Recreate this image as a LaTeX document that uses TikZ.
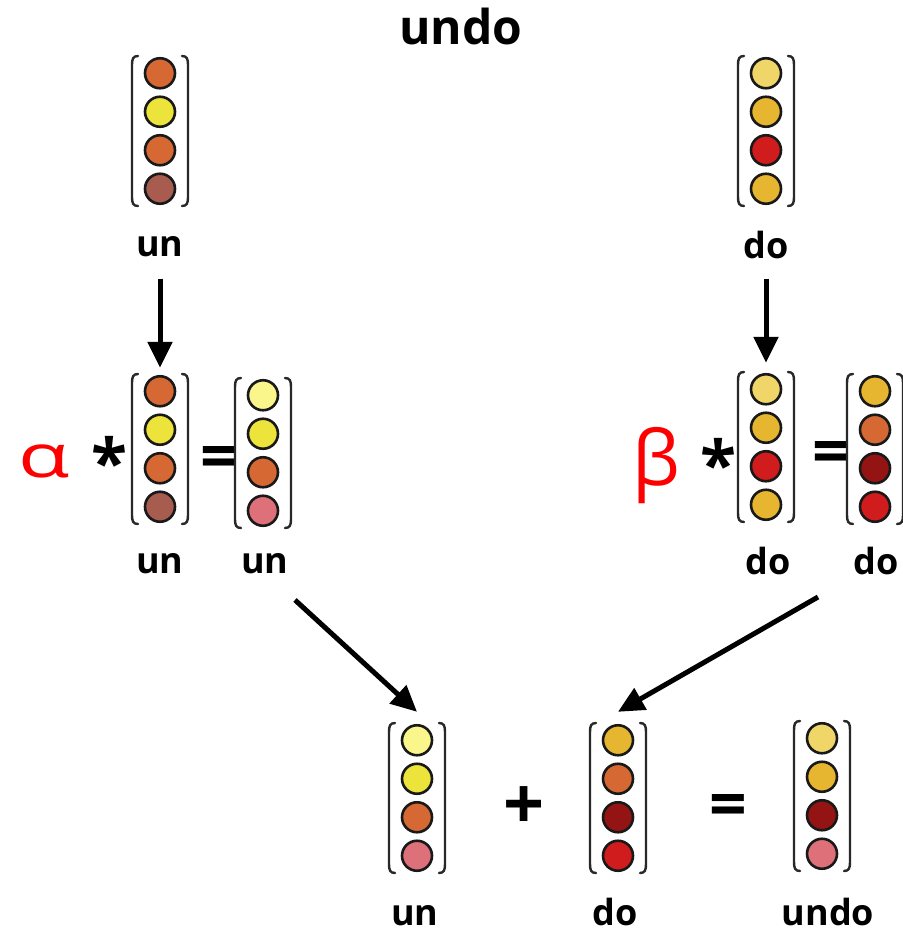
\documentclass[tikz,border=0pt]{standalone}
\usepackage{fontspec}
\setmainfont{Open Sans}
\usetikzlibrary{arrows.meta}
\definecolor{cOr}{RGB}{214,104,52}
\definecolor{cYe}{RGB}{236,228,58}
\definecolor{cBr}{RGB}{168,92,80}
\definecolor{cPy}{RGB}{250,246,140}
\definecolor{cPk}{RGB}{222,112,122}
\definecolor{cLg}{RGB}{240,214,104}
\definecolor{cGd}{RGB}{230,182,48}
\definecolor{cRd}{RGB}{208,28,28}
\definecolor{cDr}{RGB}{148,20,20}
\definecolor{brk}{RGB}{40,40,40}
\tikzset{
  bracket/.style={draw=brk, line width=2.4pt, line cap=round},
  dot/.style={circle, draw=black!90, line width=2.6pt, minimum size=30pt, inner sep=0pt},
  lbl/.style={font=\bfseries\fontsize{36}{40}\selectfont, anchor=base, inner sep=0pt},
  ttl/.style={font=\bfseries\fontsize{48}{52}\selectfont, anchor=base, inner sep=0pt},
  greek/.style={text=red, inner sep=0pt, anchor=base},
  op/.style={font=\bfseries, inner sep=0pt},
  arr/.style={line width=5pt, -{Triangle[length=26pt,width=24pt]}},
  pics/vec/.style n args={4}{code={
    \node[minimum width=56pt, minimum height=150pt, inner sep=0pt] (-box) {};
    \draw[bracket] (-22,-75) .. controls (-27,-75) and (-28,-72) .. (-28,-66) -- (-28,66) .. controls (-28,72) and (-27,75) .. (-22,75);
    \draw[bracket] (22,-75) .. controls (27,-75) and (28,-72) .. (28,-66) -- (28,66) .. controls (28,72) and (27,75) .. (22,75);
    \node[dot, fill=#1] (-c1) at (0,-57.75) {};
    \node[dot, fill=#2] (-c2) at (0,-19.25) {};
    \node[dot, fill=#3] (-c3) at (0,19.25) {};
    \node[dot, fill=#4] (-c4) at (0,57.75) {};
  }}
}
\begin{document}
\begin{tikzpicture}[x=1pt, y=-1pt]
\useasboundingbox (0,0) rectangle (902,934);
\fill[white] (0,0) rectangle (902,934);

% title
\node[ttl] (title) at (461,45) {undo};

% top row
\pic (A) at (160,131) {vec={cOr}{cYe}{cOr}{cBr}};
\pic (B) at (766,131) {vec={cLg}{cGd}{cRd}{cGd}};
\node[lbl] (lA) at (160,256) {un};
\node[lbl] (lB) at (766,258) {do};

% middle row left
\node[greek, font=\fontsize{60}{66}\selectfont] (alpha) at (44,477) {\scalebox{1.4}[1]{α}};
\node[op, font=\bfseries\fontsize{66}{70}\selectfont] (star1) at (109,461) {*};
\pic (C) at (160,449) {vec={cOr}{cYe}{cOr}{cBr}};
\node[op, font=\bfseries\fontsize{66}{70}\selectfont] (eq1) at (219,463) {=};
\pic (D) at (263,453) {vec={cPy}{cYe}{cOr}{cPk}};
\node[lbl] (lC) at (160,573) {un};
\node[lbl] (lD) at (265,573) {un};

% middle row right
\node[greek, font=\fontsize{76}{80}\selectfont] (beta) at (656,485) {β};
\node[op, font=\bfseries\fontsize{66}{70}\selectfont] (star2) at (718,463) {*};
\pic (E) at (766,447) {vec={cLg}{cGd}{cRd}{cGd}};
\node[op, font=\bfseries\fontsize{66}{70}\selectfont] (eq2) at (831,458) {=};
\pic (F) at (875,449) {vec={cGd}{cOr}{cDr}{cRd}};
\node[lbl] (lE) at (768,574) {do};
\node[lbl] (lF) at (876,574) {do};

% bottom row
\pic (G) at (417,798) {vec={cPy}{cYe}{cOr}{cPk}};
\node[op, font=\bfseries\fontsize{72}{76}\selectfont] (plus) at (524,808) {+};
\pic (H) at (618,798) {vec={cGd}{cOr}{cDr}{cRd}};
\node[op, font=\bfseries\fontsize{66}{70}\selectfont] (eq3) at (728,811) {=};
\pic (I) at (822,796) {vec={cLg}{cGd}{cDr}{cPk}};
\node[lbl] (lG) at (415,925) {un};
\node[lbl] (lH) at (615,925) {do};
\node[lbl] (lI) at (828,925) {undo};

% arrows
\coordinate (s1) at (295,600);
\coordinate (s2) at (818,597);
\draw[arr] ([yshift=-22pt]lA.south) -- ([yshift=6pt]C-box.north);
\draw[arr] ([yshift=-20pt]lB.south) -- ([yshift=9pt]E-box.north);
\draw[arr] (s1) -- ([yshift=11pt]G-box.north);
\draw[arr] (s2) -- ([yshift=11pt]H-box.north);
\end{tikzpicture}
\end{document}
